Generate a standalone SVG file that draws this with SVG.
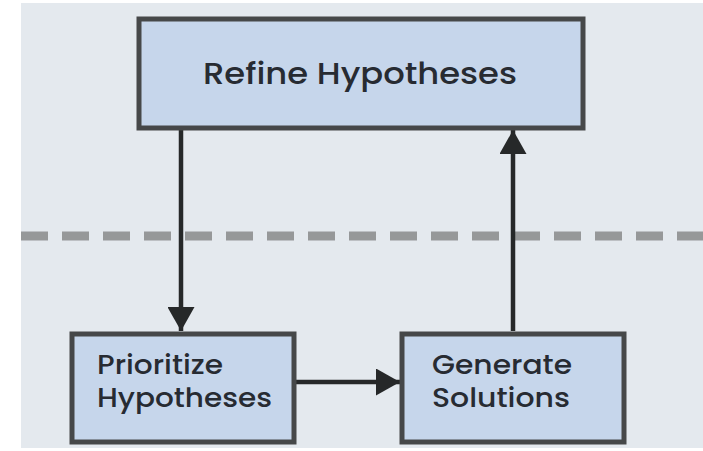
<svg xmlns="http://www.w3.org/2000/svg" width="703" height="451" viewBox="0 0 703 451">
<style>
.box{fill:#c6d6eb;stroke:#464849;stroke-width:5}
.lbl{font-family:"Poppins","Inter","Noto Sans",sans-serif;font-weight:500;fill:#272b32}
.conn{stroke:#262829;stroke-width:4.5;fill:none}
</style>
<defs>
<marker id="ah" viewBox="0 0 24 27" refX="24" refY="13.5" markerWidth="24" markerHeight="27" orient="auto" markerUnits="userSpaceOnUse">
<path d="M0,0 L24,13.5 L0,27 Z" fill="#262829"/>
</marker>
</defs>
<rect x="0" y="0" width="703" height="451" fill="#ffffff"/>
<rect x="21" y="3" width="682" height="445" fill="#e4e9ee"/>
<line x1="21" y1="236" x2="703" y2="236" stroke="#969899" stroke-width="9" stroke-dasharray="27,14"/>
<g id="connectors">
<line class="conn" x1="181" y1="129" x2="181" y2="331" marker-end="url(#ah)"/>
<line class="conn" x1="513" y1="331" x2="513" y2="130" marker-end="url(#ah)"/>
<line class="conn" x1="295" y1="382" x2="400" y2="382" marker-end="url(#ah)"/>
</g>
<g id="refine">
<rect class="box" x="139" y="19" width="444" height="109"/>
<text class="lbl" x="203" y="84" font-size="31" textLength="314" lengthAdjust="spacingAndGlyphs">Refine Hypotheses</text>
</g>
<g id="prioritize">
<rect class="box" x="72" y="334" width="222" height="108"/>
<text class="lbl" x="97" y="374" font-size="26" textLength="126" lengthAdjust="spacingAndGlyphs">Prioritize</text>
<text class="lbl" x="97" y="407" font-size="26" textLength="175" lengthAdjust="spacingAndGlyphs">Hypotheses</text>
</g>
<g id="generate">
<rect class="box" x="402" y="334" width="222" height="108"/>
<text class="lbl" x="432" y="374" font-size="26" textLength="140" lengthAdjust="spacingAndGlyphs">Generate</text>
<text class="lbl" x="432" y="407" font-size="26" textLength="138" lengthAdjust="spacingAndGlyphs">Solutions</text>
</g>
</svg>
